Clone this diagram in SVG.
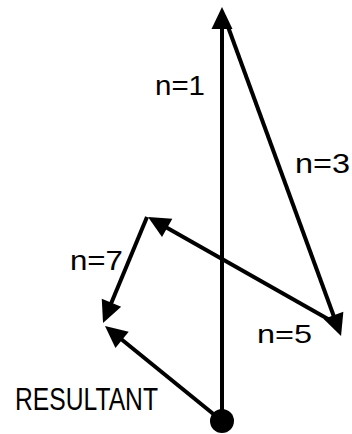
<svg xmlns="http://www.w3.org/2000/svg" width="352" height="434" viewBox="0 0 352 434">
  <style>
    .vec { stroke: #000; stroke-width: 4; fill: none; marker-end: url(#arrow); }
    .lbl { font-family: "Liberation Sans", Arial, sans-serif; fill: #000; }
  </style>
  <defs>
    <marker id="arrow" markerUnits="userSpaceOnUse" orient="auto" overflow="visible" markerWidth="24" markerHeight="24" refX="14" refY="0">
      <path d="M22,0 L0,-10.5 L0,10.5 Z" fill="#000"/>
    </marker>
  </defs>
  <rect width="352" height="434" fill="#fff"/>
  <g id="connectors">
    <line id="n1" class="vec" x1="222" y1="421" x2="222" y2="15"/>
    <line id="n3" class="vec" x1="227" y1="24" x2="338.3" y2="328.5"/>
    <line id="n5" class="vec" x1="335" y1="323" x2="155" y2="220.9"/>
    <line id="n7" class="vec" x1="147" y1="217" x2="106.1" y2="315.6"/>
    <line id="resultant" class="vec" x1="222" y1="421" x2="111.2" y2="331"/>
  </g>
  <g id="origin">
    <circle cx="222" cy="421" r="12" fill="#000"/>
  </g>
  <g id="labels">
    <text id="lbl-n1" class="lbl" x="155" y="95" font-size="27" textLength="50" lengthAdjust="spacingAndGlyphs">n=1</text>
    <text id="lbl-n3" class="lbl" x="295" y="173" font-size="28" textLength="55" lengthAdjust="spacingAndGlyphs">n=3</text>
    <text id="lbl-n7" class="lbl" x="70" y="270" font-size="27" textLength="53" lengthAdjust="spacingAndGlyphs">n=7</text>
    <text id="lbl-n5" class="lbl" x="257" y="343" font-size="26" textLength="55" lengthAdjust="spacingAndGlyphs">n=5</text>
    <text id="lbl-resultant" class="lbl" x="15" y="410" font-size="32" textLength="143" lengthAdjust="spacingAndGlyphs">RESULTANT</text>
  </g>
</svg>
